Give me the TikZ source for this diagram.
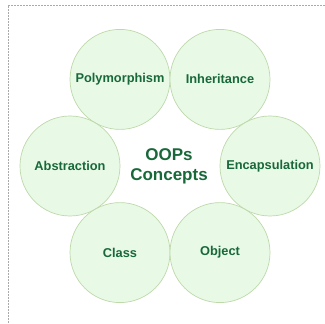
\documentclass[tikz,border=0pt]{standalone}
\usepackage{fontspec}
\setmainfont{Liberation Sans}
\usetikzlibrary{positioning}

\definecolor{conceptfill}{RGB}{232,250,230}
\definecolor{conceptline}{RGB}{190,216,170}
\definecolor{conceptgreen}{RGB}{24,104,58}
\definecolor{framegray}{RGB}{170,170,170}

\begin{document}
\begin{tikzpicture}[
    x = 1pt,
    y = 1pt,
    semithick
]

% Setup the styles for the circles
\tikzstyle{concept}=[draw=conceptline, fill=conceptfill, line width=0.7pt, circle, minimum size=100pt, inner sep=0pt, text=conceptgreen, font=\bfseries\fontsize{12.8}{15}\selectfont]
\tikzstyle{title}=[text=conceptgreen, align=center, font=\bfseries\fontsize{17}{20}\selectfont]

% Fix the page size
\useasboundingbox (-170,-158) rectangle (155,166);

% Draw the dotted frame
\draw[framegray, line width=0.6pt, dash pattern=on 2pt off 1pt] (155,161) -- (-162,161) -- (-162,-158);

% Draw the concepts around the title
\node[title] (oops) at (-1,0) {OOPs\\Concepts};
\node[concept] (poly) at (120:100) {Polymorphism};
\node[concept] (inherit) at (60:100) {Inheritance};
\node[concept] (abstr) at (180:100) {Abstraction};
\node[concept] (encap) at (0:100) {Encapsulation};
\node[concept] (class) at (240:100) {Class};
\node[concept] (object) at (300:100) {Object};

\end{tikzpicture}
\end{document}
